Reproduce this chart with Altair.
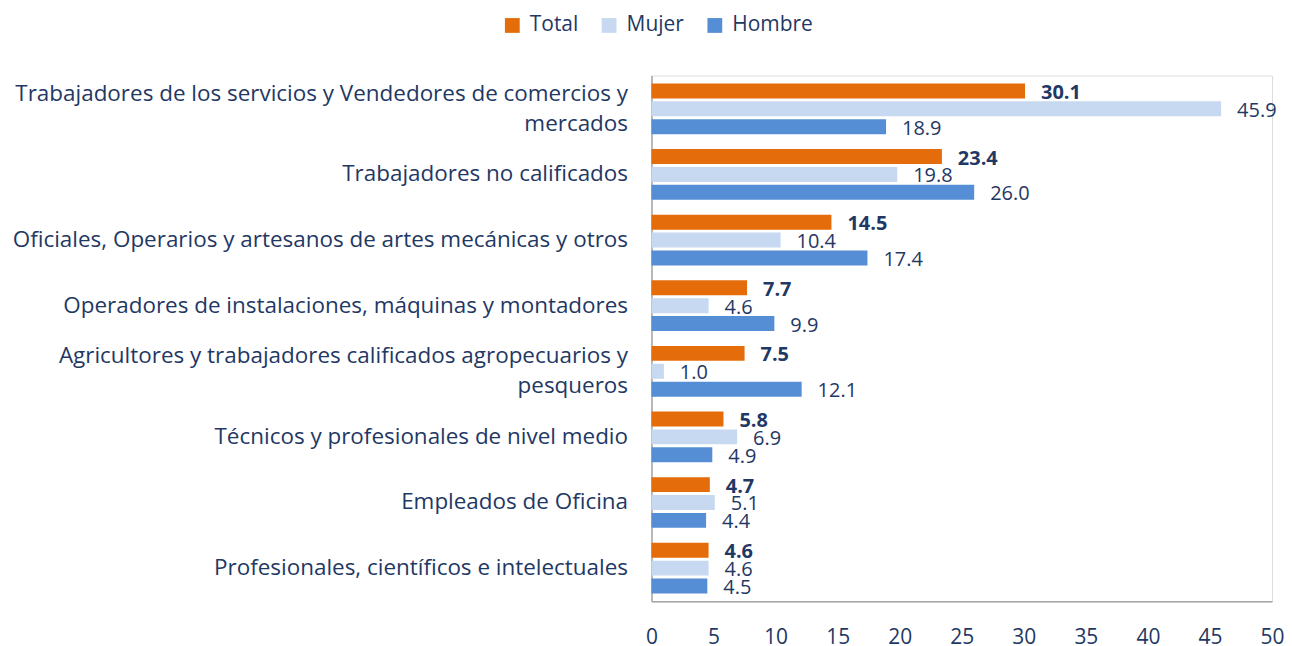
import altair as alt
import pandas as pd

categories = [
    "Trabajadores de los servicios y Vendedores de comercios y mercados",
    "Trabajadores no calificados",
    "Oficiales, Operarios y artesanos de artes mecánicas y otros",
    "Operadores de instalaciones, máquinas y montadores",
    "Agricultores y trabajadores calificados agropecuarios y pesqueros",
    "Técnicos y profesionales de nivel medio",
    "Empleados de Oficina",
    "Profesionales, científicos e intelectuales",
]
total = [30.1, 23.4, 14.5, 7.7, 7.5, 5.8, 4.7, 4.6]
mujer = [45.9, 19.8, 10.4, 4.6, 1.0, 6.9, 5.1, 4.6]
hombre = [18.9, 26.0, 17.4, 9.9, 12.1, 4.9, 4.4, 4.5]
series = ["Total", "Mujer", "Hombre"]
colors = ["#E46C0A", "#C6D9F1", "#558ED5"]
x_ticks = [0, 5, 10, 15, 20, 25, 30, 35, 40, 45, 50]

wrapped = {
    categories[0]: ["Trabajadores de los servicios y Vendedores de comercios y", "mercados"],
    categories[4]: ["Agricultores y trabajadores calificados agropecuarios y", "pesqueros"],
}

rows = []
for s, vals in zip(series, [total, mujer, hombre]):
    for c, v in zip(categories, vals):
        rows.append({"cat": c, "serie": s, "value": v, "label": f"{v:.1f}"})
df = pd.DataFrame(rows)

expr = "datum.label"
for k, lines in wrapped.items():
    arr = "[" + ", ".join("'" + l + "'" for l in lines) + "]"
    expr = f"datum.label == '{k}' ? {arr} : ({expr})"
wrap_test = " || ".join(f"datum.value == '{k}'" for k in wrapped)

FONT = "Open Sans"
TXT = "#1F3864"

base = alt.Chart(df).encode(
    y=alt.Y(
        "cat:N",
        sort=categories,
        scale=alt.Scale(paddingInner=0.227, paddingOuter=0.12),
        axis=alt.Axis(
            title=None,
            labelExpr=expr,
            labelFontSize=22.5,
            labelColor=TXT,
            labelFont=FONT,
            labelLimit=1000,
            labelPadding=24,
            labelLineHeight=30,
            labelBaseline={"condition": {"test": wrap_test, "value": "line-bottom"}, "value": "middle"},
            ticks=False,
            domainColor="#A6A6A6",
            domainWidth=1.5,
            grid=False,
        ),
    ),
    yOffset=alt.YOffset("serie:N", sort=series, scale=alt.Scale(paddingInner=0.165)),
    x=alt.X(
        "value:Q",
        scale=alt.Scale(domain=[0, 50]),
        axis=alt.Axis(
            title=None,
            values=x_ticks,
            labelFontSize=21,
            labelColor=TXT,
            labelFont=FONT,
            labelPadding=25,
            labelFlush=False,
            ticks=False,
            grid=False,
            domainColor="#A6A6A6",
            domainWidth=1.5,
        ),
    ),
)

bars = base.mark_bar().encode(
    color=alt.Color(
        "serie:N",
        sort=series,
        scale=alt.Scale(domain=series, range=colors),
        legend=alt.Legend(
            title=None,
            orient="none",
            direction="horizontal",
            legendX=-150,
            legendY=-61,
            symbolType="square",
            symbolSize=220,
            symbolStrokeWidth=0,
            labelFontSize=21,
            labelFont=FONT,
            labelColor=TXT,
            labelOffset=7,
            columnPadding=20,
        ),
    )
)

labels_total = base.transform_filter(alt.datum.serie == "Total").mark_text(
    align="left", baseline="middle", dx=16, dy=2, fontSize=20, font=FONT,
    fontWeight="bold", color=TXT,
).encode(text="label:N")

labels_other = base.transform_filter(alt.datum.serie != "Total").mark_text(
    align="left", baseline="middle", dx=16, dy=2, fontSize=20, font=FONT,
    color=TXT,
).encode(text="label:N")

chart = alt.layer(bars, labels_total, labels_other).properties(
    width=622,
    height=527,
    padding={"left": 645, "top": 67, "right": 12, "bottom": 44},
    autosize=alt.AutoSizeParams(type="none"),
).configure_view(stroke=None).configure(background="white")

chart.save("out.html", embed_options={"renderer": "svg", "actions": False})
